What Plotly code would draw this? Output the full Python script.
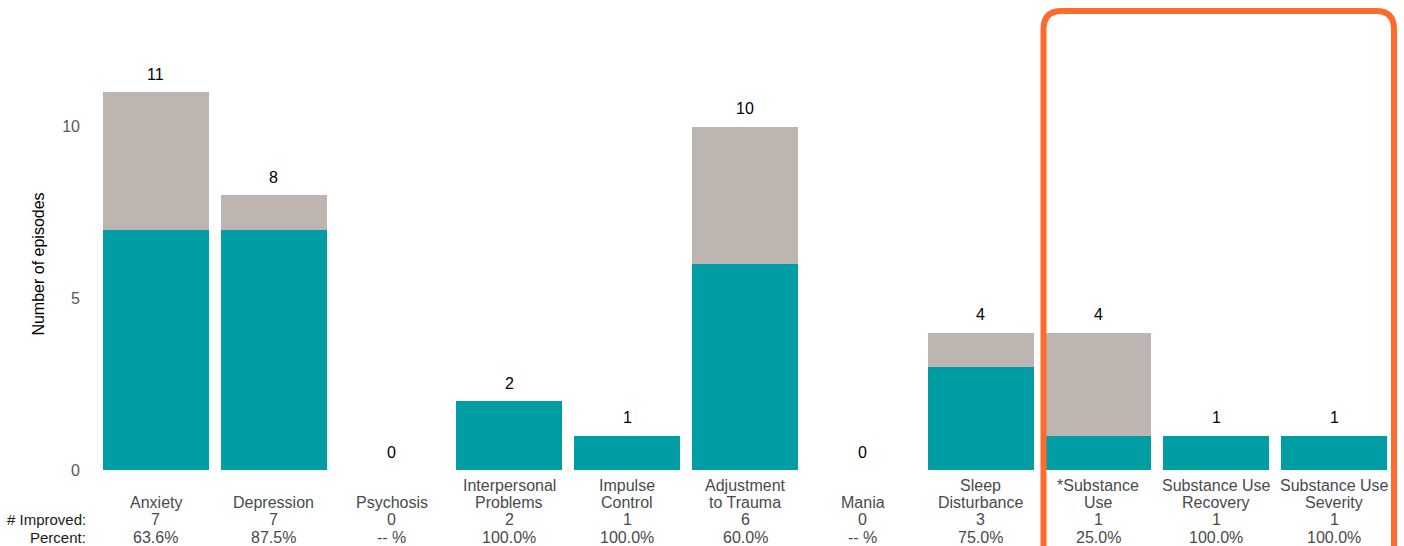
import plotly.graph_objects as go

categories = ["Anxiety", "Depression", "Psychosis", "Interpersonal<br>Problems", "Impulse<br>Control",
              "Adjustment<br>to Trauma", "Mania", "Sleep<br>Disturbance", "*Substance<br>Use",
              "Substance Use<br>Recovery", "Substance Use<br>Severity"]
improved = [7, 7, 0, 2, 1, 6, 0, 3, 1, 1, 1]
totals = [11, 8, 0, 2, 1, 10, 0, 4, 4, 1, 1]
percent_labels = ["63.6%", "87.5%", "-- %", "100.0%", "100.0%", "60.0%", "-- %", "75.0%", "25.0%", "100.0%", "100.0%"]
not_improved = [t - i for t, i in zip(totals, improved)]

TEAL = "#009EA4"
GRAY = "#BDB5B0"
ORANGE = "#FF6B2F"
FONT = "Liberation Sans, Arial, sans-serif"

W, H = 1404, 546
ML, MR, MT, MB = 97, 11, 58, 76
PW, PH = W - ML - MR, H - MT - MB

def py(p):
    return (H - MB - p) / PH

def px(p):
    return (p - ML) / PW

xs = list(range(len(categories)))

fig = go.Figure()
fig.add_trace(go.Bar(x=xs, y=improved, marker=dict(color=TEAL, line=dict(width=0)), name="Improved"))
fig.add_trace(go.Bar(x=xs, y=not_improved, marker=dict(color=GRAY, line=dict(width=0)), name="Not improved"))

ann = []
for i, (c, t, n, p) in enumerate(zip(categories, totals, improved, percent_labels)):
    ann.append(dict(x=i, y=t, xref="x", yref="y", text=str(t), showarrow=False,
                    yanchor="middle", yshift=18, font=dict(size=16, color="#000000", family=FONT)))
    lines = c.split("<br>")
    if len(lines) == 1:
        lines = ["", lines[0]]
    for yy, txt in zip([485, 502, 519, 537], lines + [str(n), p]):
        if txt:
            ann.append(dict(x=i, y=py(yy), xref="x", yref="paper", text=txt, showarrow=False,
                            yanchor="middle", xanchor="center",
                            font=dict(size=16, color="#4a4a4a", family=FONT)))
ann.append(dict(x=px(88), y=py(519), xref="paper", yref="paper", text="# Improved:", showarrow=False,
                xanchor="right", yanchor="middle", font=dict(size=15, color="#202020", family=FONT)))
ann.append(dict(x=px(88), y=py(537), xref="paper", yref="paper", text="Percent:", showarrow=False,
                xanchor="right", yanchor="middle", font=dict(size=15, color="#202020", family=FONT)))

# rounded orange box
x0, x1 = px(1043.5), px(1394)
y0, y1 = py(600), py(11)
r = 18
rx, ry = r / PW, r / PH
path = (f"M {x0},{y0} L {x0},{y1 - ry} Q {x0},{y1} {x0 + rx},{y1} "
        f"L {x1 - rx},{y1} Q {x1},{y1} {x1},{y1 - ry} L {x1},{y0}")

fig.update_layout(
    width=W, height=H,
    barmode="stack", bargap=0.1,
    showlegend=False,
    plot_bgcolor="white", paper_bgcolor="white",
    margin=dict(l=ML, r=MR, t=MT, b=MB),
    font=dict(family=FONT, size=16, color="#404040"),
    xaxis=dict(range=[-0.5, len(categories) - 0.5], showticklabels=False, showgrid=False,
               zeroline=False, showline=False, ticks=""),
    yaxis=dict(range=[0, 12], tickvals=[0, 5, 10], showgrid=False, zeroline=False, showline=False,
               tickfont=dict(size=16, color="#595959"), ticklabelstandoff=16,
               title=dict(text="Number of episodes", font=dict(size=16, color="#000000"), standoff=13)),
    annotations=ann,
    shapes=[dict(type="path", path=path, xref="paper", yref="paper",
                 line=dict(color=ORANGE, width=6))],
)

fig.write_html("out.html", config={"displayModeBar": False},
               post_script="document.body.style.margin='0';document.body.style.overflow='hidden';")
